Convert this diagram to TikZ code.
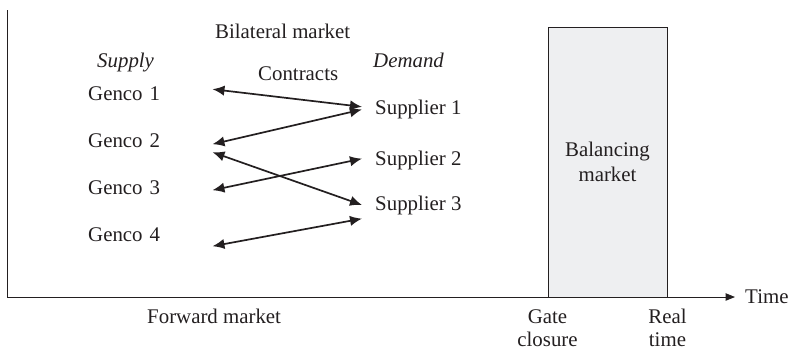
\documentclass[tikz,border=0pt]{standalone}
\usepackage{fontspec}
\setmainfont{Liberation Serif}
\usepackage{tikz}
\usetikzlibrary{arrows.meta,positioning}
\definecolor{inkgray}{RGB}{35,31,32}
\definecolor{balfill}{RGB}{238,239,241}
\tikzset{
  tag/.style={inner sep=0pt, anchor=base west},
  genco/.style={inner sep=0pt, anchor=base west, text width=37.2mm, align=left},
  supplier/.style={inner xsep=3.9mm, inner ysep=0pt, anchor=base west},
  stamp/.style={inner sep=0pt, align=center, below=3.5mm of #1,
    font=\fontsize{17.8}{19.6}\selectfont},
  contract/.style={{Latex[length=3.6mm,width=3.1mm]}-{Latex[length=3.6mm,width=3.1mm]},
    line width=1.45pt, draw=inkgray},
  axis/.style={-{Triangle[length=2.8mm,width=2.2mm]}, line width=0.8pt, draw=inkgray}
}

\begin{document}
\begin{tikzpicture}[x=0.3mm, y=-0.3mm, font=\fontsize{17.8}{21}\selectfont, text=inkgray]
        \useasboundingbox (0,0) rectangle (788,352);
        % balancing window and time axis
        \node[draw=inkgray, fill=balfill, line width=0.8pt, minimum width=35.7mm,
          minimum height=81mm, align=center, inner sep=0pt] (bal) at (607.5,162) {Balancing\\market};
        \coordinate (origin) at (7.5,297);
        \draw[axis] (7.5,10) -- (origin) -- (735,297);
        \node[tag] (time) at (745,303) {Time};
        \node[stamp=bal.south west] (gate) {Gate\\closure};
        \node[stamp=bal.south east] (real) {Real\\time};
        \node[tag] (fwd) at (147,323) {Forward market};
        % bilateral market
        \node[tag] (bilat) at (215,38) {Bilateral market};
        \node[tag] (supply) at (97,67) {\itshape Supply};
        \node[tag] (demand) at (373,67) {\itshape Demand};
        \node[tag] (contracts) at (258,80) {Contracts};
        \node[genco] (g1) at (88,100) {Genco 1};
        \node[genco] (g2) at (88,147) {Genco 2};
        \node[genco] (g3) at (88,194) {Genco 3};
        \node[genco] (g4) at (88,241) {Genco 4};
        \node[supplier] (s1) at (362,114.5) {Supplier 1};
        \node[supplier] (s2) at (362,165) {Supplier 2};
        \node[supplier] (s3) at (362,210) {Supplier 3};
        \draw[contract] ([yshift=1.2mm]g1.east) -- ([yshift=0.8mm]s1.west);
        \draw[contract] ([yshift=-1.2mm]g2.east) -- (s1.west);
        \draw[contract] ([yshift=-3.6mm]g2.east) -- (s3.west);
        \draw[contract] ([yshift=-0.9mm]g3.east) -- ([yshift=0.4mm]s2.west);
        \draw[contract] ([yshift=-3.6mm]g4.east) -- ([yshift=-4.1mm]s3.west);
    \end{tikzpicture}
\end{document}
